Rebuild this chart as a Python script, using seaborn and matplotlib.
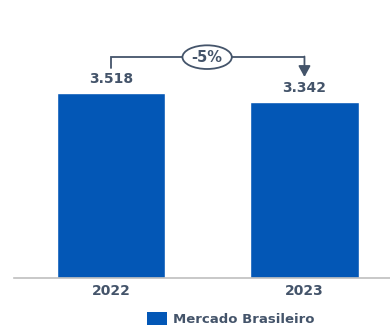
import matplotlib
matplotlib.use("Agg")
import matplotlib.pyplot as plt
from matplotlib.patches import Ellipse, Patch
import seaborn as sns
import pandas as pd

# Market volume per year
years = ["2022", "2023"]
values = [3.518, 3.342]
value_labels = ["3.518", "3.342"]
change_label = "-5%"
series_name = "Mercado Brasileiro"

BAR_COLOR = "#0357B6"
TEXT_COLOR = "#44546A"
AXIS_COLOR = "#BFBFBF"

sns.set_theme(style="white")
plt.rcParams["font.family"] = ["DejaVu Sans"]

df = pd.DataFrame({"ano": years, "valor": values})

fig = plt.figure(figsize=(3.9, 3.29), dpi=100)
ax = fig.add_axes([14 / 390, 51 / 329, 1 - 14 / 390, 278 / 329])

sns.barplot(data=df, x="ano", y="valor", color=BAR_COLOR, saturation=1,
            width=0.56, ax=ax)

ax.set_xlim(-0.501, 1.442)
ax.set_ylim(0, 5.287)
ax.set_xlabel("")
ax.set_ylabel("")
ax.set_yticks([])
for side in ("top", "left", "right"):
    ax.spines[side].set_visible(False)
ax.spines["bottom"].set_color(AXIS_COLOR)
ax.spines["bottom"].set_linewidth(1.2)
ax.tick_params(axis="x", length=0, pad=4.5, labelsize=10, labelcolor=TEXT_COLOR)
for lbl in ax.get_xticklabels():
    lbl.set_fontweight("bold")

# Value labels above each bar
for i, (v, s) in enumerate(zip(values, value_labels)):
    ax.annotate(s, xy=(i, v), xytext=(0, 5), textcoords="offset points",
                ha="center", va="bottom", fontsize=10, fontweight="bold",
                color=TEXT_COLOR)

# Year-over-year change bracket
y_top = 4.20
ax.plot([0, 0, 1], [values[0] + 0.47, y_top, y_top], color=TEXT_COLOR, lw=1.3,
        solid_joinstyle="miter")
ax.annotate("", xy=(1, values[1] + 0.48), xytext=(1, y_top + 0.012),
            arrowprops=dict(arrowstyle="-|>,head_width=0.3,head_length=0.55",
                            color=TEXT_COLOR, lw=1.3, shrinkA=0, shrinkB=0))
ax.add_patch(Ellipse((0.497, y_top), 0.255, 0.45, facecolor="white",
                     edgecolor=TEXT_COLOR, lw=1.3, zorder=5))
ax.text(0.497, y_top, change_label, ha="center", va="center", fontsize=10.5,
        fontweight="bold", color=TEXT_COLOR, zorder=6)

# Legend
fig.legend(handles=[Patch(facecolor=BAR_COLOR, edgecolor="none")],
           labels=[series_name], loc="center",
           bbox_to_anchor=(231 / 390, 1 - 319 / 329), frameon=False,
           prop=dict(weight="bold", size=9.5), labelcolor=TEXT_COLOR,
           handlelength=1.5, handleheight=1.2, handletextpad=0.5)

fig.savefig("out.png", dpi=100)
